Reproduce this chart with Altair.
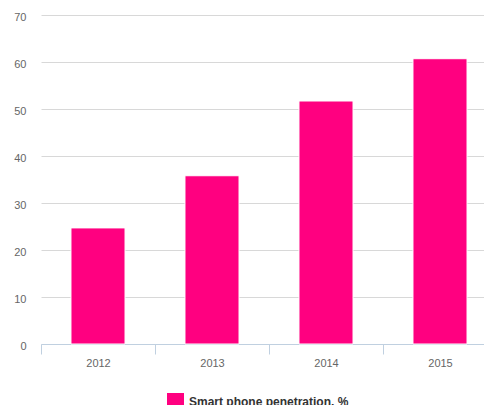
import altair as alt
import pandas as pd

years = ["2012", "2013", "2014", "2015"]
values = [24.7, 35.8, 51.7, 60.7]
series = ["Smart phone penetration, %"] * 4

df = pd.DataFrame({"year": years, "value": values, "series": series})

chart = alt.Chart(df).mark_bar(
    width=alt.RelativeBandSize(0.474), stroke="white", strokeWidth=1
).encode(
    x=alt.X("year:N", title=None, sort=years,
            scale=alt.Scale(range=[0, 456], paddingInner=0, paddingOuter=0),
            axis=alt.Axis(labelAngle=0, tickBand="extent", tickSize=10, labelPadding=3,
                          domainColor="#c0d0e0", tickColor="#c0d0e0", labelColor="#666666",
                          labelFontSize=11, labelFont="Liberation Sans", grid=False)),
    y=alt.Y("value:Q", title=None,
            scale=alt.Scale(domain=[0, 70], nice=False),
            axis=alt.Axis(values=[0, 10, 20, 30, 40, 50, 60, 70], tickSize=0, domain=False,
                          labelPadding=15, labelColor="#666666", labelFontSize=11,
                          labelFont="Liberation Sans", gridColor="#d8d8d8", labelOffset=2)),
    color=alt.Color("series:N", scale=alt.Scale(range=["#ff0080"]),
                    legend=alt.Legend(title=None, orient="none", legendX=126, legendY=378,
                                      symbolType="square", symbolSize=289, symbolStrokeWidth=0,
                                      labelFont="Liberation Sans", labelFontSize=12,
                                      labelFontWeight="bold", labelColor="#333333",
                                      labelOffset=5, padding=0)),
).properties(
    width=443, height=329,
    autosize=alt.AutoSizeParams(type="none"),
    padding={"left": 41, "top": 15, "right": 0, "bottom": 61},
).configure_view(stroke=None)

chart.save("out.html", embed_options={"renderer": "svg", "actions": False})
